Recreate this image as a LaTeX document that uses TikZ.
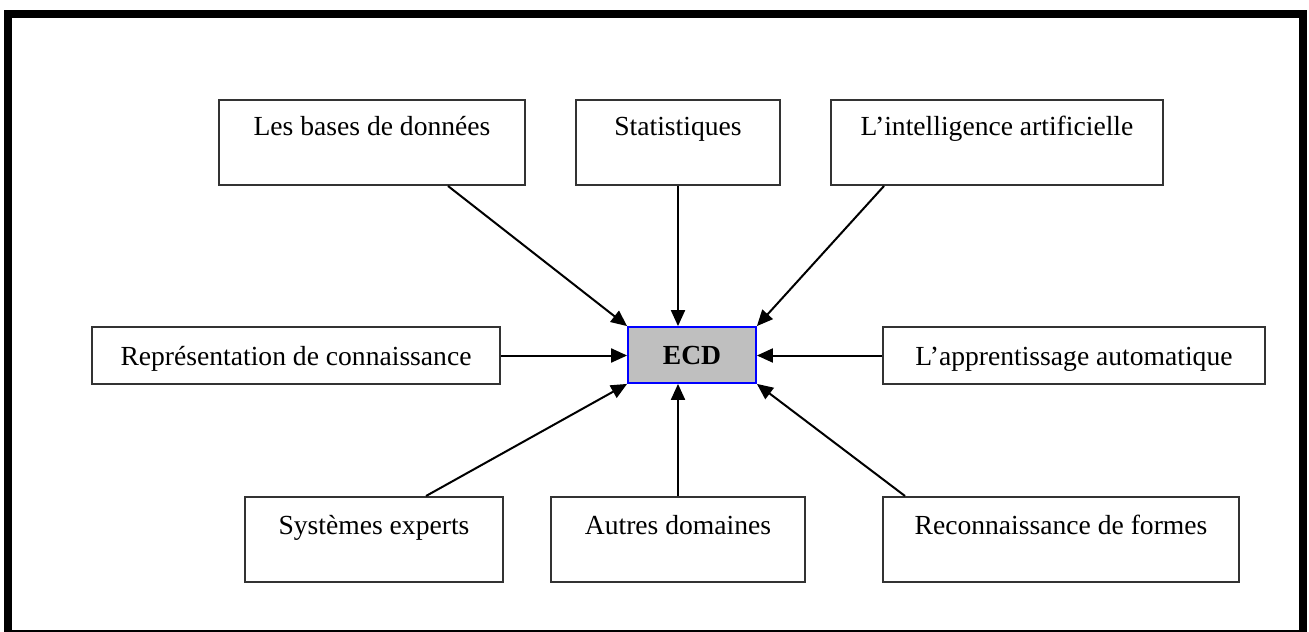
\documentclass[tikz,border=0pt]{standalone}
\usepackage{fontspec}
\setmainfont{Liberation Serif}
\usetikzlibrary{arrows.meta}
\begin{document}
\begin{tikzpicture}[x=0.5pt,y=-0.5pt,
  box/.style={draw=black!80, line width=1pt, inner sep=0pt, font=\fontsize{13.8}{16}\selectfont},
  topbox/.style={box, minimum height=42.5pt, text height=17.5pt, text depth=25pt},
  botbox/.style={box, minimum height=42.5pt, text height=18.5pt, text depth=24pt},
  midbox/.style={box, minimum height=28.5pt, text height=19pt, text depth=9.5pt},
  centre/.style={draw=blue, fill=black!25, line width=0.9pt, inner sep=0pt,
    font=\fontsize{13.8}{16}\selectfont\bfseries, minimum width=64pt,
    minimum height=28pt, text height=18.5pt, text depth=9.5pt},
  arr/.style={line width=1pt, -{Triangle[length=8pt,width=7pt]}},
  frame/.style={line width=4pt}]
\useasboundingbox (0,0) rectangle (1309,631);
\clip (0,0) rectangle (1309,631);
\draw[frame] (8,14) rectangle (1302.5,634);

\node[topbox, minimum width=153pt] (bases) at (372,142.5) {Les bases de données};
\node[topbox, minimum width=102pt] (stats) at (678,142.5) {Statistiques};
\node[topbox, minimum width=166pt] (intel) at (997,142.5) {L’intelligence artificielle};

\node[midbox, minimum width=204pt] (repr) at (296,355.5) {Représentation de connaissance};
\node[centre] (ecd) at (692,355) {ECD};
\node[midbox, minimum width=191pt] (appr) at (1074,355.5) {L’apprentissage automatique};

\node[botbox, minimum width=129pt] (syst) at (374,539.5) {Systèmes experts};
\node[botbox, minimum width=127pt] (autres) at (678,539.5) {Autres domaines};
\node[botbox, minimum width=178pt] (recon) at (1061,539.5) {Reconnaissance de formes};

\draw[arr] ([xshift=38pt]bases.south) -- (ecd.north west);
\draw[arr] (stats.south) -- (stats.south |- ecd.north);
\draw[arr] ([xshift=-56.5pt]intel.south) -- (ecd.north east);
\draw[arr] (repr.east) -- (repr.east -| ecd.west);
\draw[arr] (appr.west) -- (appr.west -| ecd.east);
\draw[arr] ([xshift=26pt]syst.north) -- (ecd.south west);
\draw[arr] (autres.north) -- (autres.north |- ecd.south);
\draw[arr] ([xshift=-78pt]recon.north) -- (ecd.south east);
\end{tikzpicture}
\end{document}
